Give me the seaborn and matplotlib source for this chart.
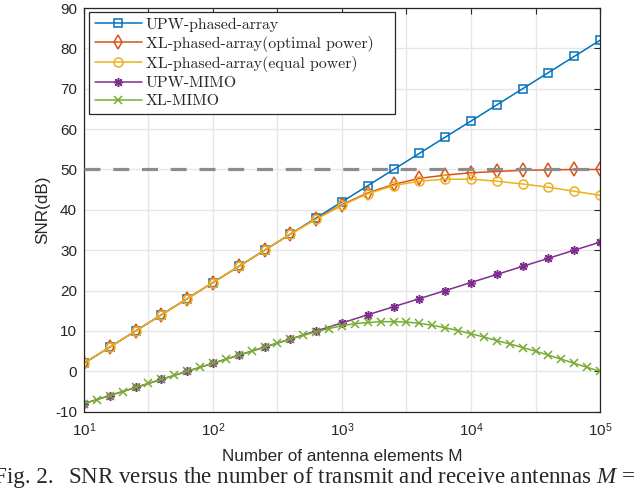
import matplotlib
matplotlib.use("Agg")
import matplotlib.pyplot as plt
import seaborn as sns
import pandas as pd

sns.set_style("white")
plt.rcParams['font.family'] = ['Liberation Sans', 'DejaVu Sans']
plt.rcParams['mathtext.fontset'] = 'custom'
plt.rcParams['mathtext.rm'] = 'Liberation Sans'
plt.rcParams['mathtext.it'] = 'Liberation Serif:italic'
plt.rcParams['axes.unicode_minus'] = False

# ---- data ----
M_coarse = [10, 15.85, 25.12, 39.81, 63.1, 100, 158.5, 251.2, 398.1, 631, 1000,
            1585, 2512, 3981, 6310, 10000, 15849, 25119, 39811, 63096, 100000]
M_fine = [10, 12.59, 15.85, 19.95, 25.12, 31.62, 39.81, 50.12, 63.1, 79.43, 100,
          125.9, 158.5, 199.5, 251.2, 316.2, 398.1, 501.2, 631, 794.3, 1000,
          1259, 1585, 1995, 2512, 3162, 3981, 5012, 6310, 7943, 10000,
          12589, 15849, 19953, 25119, 31623, 39811, 50119, 63096, 79433, 100000]

upw_phased = [2, 6, 10, 14, 18, 22, 26, 30, 34, 38, 42,
              46, 50, 54, 58, 62, 66, 70, 74, 78, 82]
xl_phased_opt = [2, 6, 10, 14, 18, 22, 26, 30, 34, 37.8, 41.3,
                 44.2, 46.3, 47.8, 48.6, 49.2, 49.5, 49.8, 49.9, 50.0, 50.0]
xl_phased_eq = [2, 6, 10, 14, 18, 22, 26, 30, 34, 37.7, 41.1,
                44.0, 46.0, 47.1, 47.6, 47.6, 47.1, 46.4, 45.6, 44.6, 43.6]
upw_mimo = [-8, -6, -4, -2, 0, 2, 4, 6, 8, 10, 12,
            14, 16, 18, 20, 22, 24, 26, 28, 30, 32]
xl_mimo = [-8, -7, -6, -5, -4, -3, -2, -1, 0, 1, 2,
           3, 4, 5, 6, 7, 8, 8.9, 9.8, 10.6, 11.3,
           11.8, 12.1, 12.3, 12.3, 12.2, 11.9, 11.4, 10.8, 10.1, 9.3,
           8.5, 7.6, 6.8, 5.9, 5.0, 4.0, 3.0, 2.0, 1.0, 0.0]
snr_limit = 50

xticks = [10, 31.62, 100, 316.2, 1000, 3162, 10000, 31623, 100000]
xtick_labels = ['$10^{1}$', '', '$10^{2}$', '', '$10^{3}$', '', '$10^{4}$', '', '$10^{5}$']
yticks = [-10, 0, 10, 20, 30, 40, 50, 60, 70, 80, 90]
ytick_labels = ['-10', '0', '10', '20', '30', '40', '50', '60', '70', '80', '90']

df_coarse = pd.DataFrame({'M': M_coarse, 'upw_phased': upw_phased,
                          'xl_opt': xl_phased_opt, 'xl_eq': xl_phased_eq,
                          'upw_mimo': upw_mimo})
df_fine = pd.DataFrame({'M': M_fine, 'xl_mimo': xl_mimo})

fig = plt.figure(figsize=(6.4, 4.96), dpi=100)
ax = fig.add_axes([84 / 640, 84.3 / 496, 516 / 640, 403.7 / 496])

dark = '#262626'
lw = 1.1
sns.lineplot(data=df_coarse, x='M', y='upw_phased', ax=ax, color='#0072BD', lw=lw,
             marker='s', ms=5.5, mfc='none', mec='#0072BD', mew=lw, label='UPW-phased-array')
# trailing spaces mimic the wide right margin of the MATLAB legend box
sns.lineplot(data=df_coarse, x='M', y='xl_opt', ax=ax, color='#D95319', lw=lw,
             marker='d', ms=7.5, mfc='none', mec='#D95319', mew=lw,
             label='XL-phased-array(optimal power)   ')
sns.lineplot(data=df_coarse, x='M', y='xl_eq', ax=ax, color='#EDB120', lw=lw,
             marker='o', ms=6.5, mfc='none', mec='#EDB120', mew=lw,
             label='XL-phased-array(equal power)')
sns.lineplot(data=df_coarse, x='M', y='upw_mimo', ax=ax, color='#7E2F8E', lw=lw,
             marker=(8, 2, 0), ms=6.5, mec='#7E2F8E', mew=lw, label='UPW-MIMO')
sns.lineplot(data=df_fine, x='M', y='xl_mimo', ax=ax, color='#77AC30', lw=lw,
             marker='x', ms=5.5, mec='#77AC30', mew=lw, label='XL-MIMO')
ax.axhline(snr_limit, color='#8c8c8c', lw=2.3, ls=(0, (5, 4)), zorder=3)

ax.set_xscale('log')
ax.set_xlim(10, 1e5)
ax.set_ylim(-10, 90)
ax.set_xticks(xticks)
ax.set_xticklabels(xtick_labels)
ax.minorticks_off()
ax.set_yticks(yticks)
ax.set_yticklabels(ytick_labels)

ax.grid(True, color='#e6e6e6', lw=1)
ax.set_axisbelow(True)
ax.tick_params(direction='in', length=4, width=0.8, color=dark, labelcolor=dark,
               labelsize=11, top=True, right=True)
ax.tick_params(axis='x', pad=7)
ax.tick_params(axis='y', pad=5)
for s in ax.spines.values():
    s.set_color(dark)
    s.set_linewidth(0.9)

ax.set_xlabel('Number of antenna elements M', fontsize=12.3, color=dark)
ax.set_ylabel('SNR(dB)', fontsize=12.3, color=dark)
ax.xaxis.set_label_coords(0.5, -0.092)
ax.yaxis.set_label_coords(-0.066, 0.5)

leg = ax.legend(loc='upper left', bbox_to_anchor=(5 / 516, 1 - 4 / 403.7), borderaxespad=0,
                prop={'family': ['cmr10', 'DejaVu Serif'], 'size': 11.4},
                handlelength=3.0, handletextpad=0.25, labelspacing=0.26,
                borderpad=0.35, fancybox=False, framealpha=1)
leg.get_frame().set_edgecolor(dark)
leg.get_frame().set_linewidth(0.9)

cap_y = 13 / 496
fig.text(-6 / 640, cap_y, 'Fig. 2.', family='Liberation Serif', fontsize=16.6, va='baseline')
fig.text(68 / 640, cap_y, 'SNR versus the number of transmit and receive antennas $M$ =',
         family='Liberation Serif', fontsize=16.6, va='baseline')

fig.savefig('out.png', dpi=100)
